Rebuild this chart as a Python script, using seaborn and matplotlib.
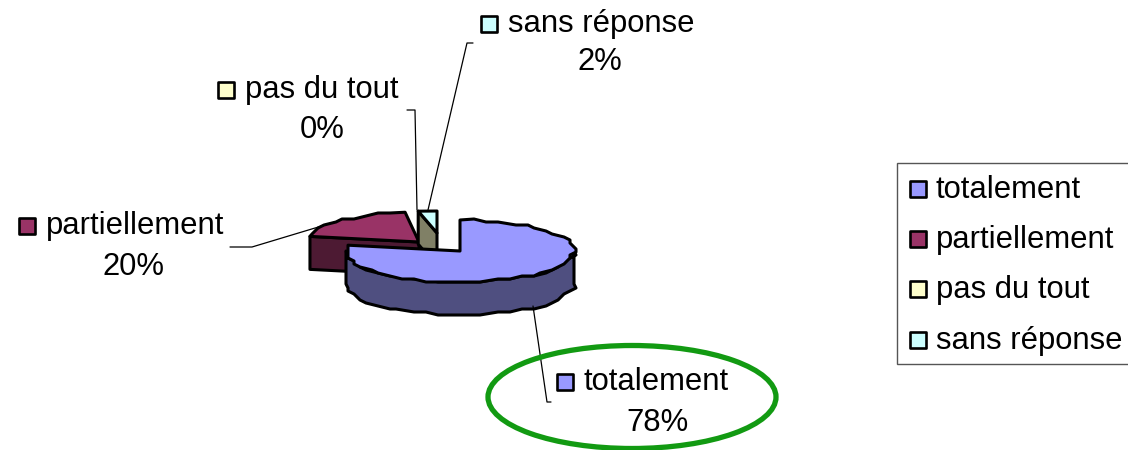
import numpy as np
import seaborn as sns
import matplotlib.pyplot as plt
from matplotlib.patches import Ellipse, Rectangle

labels = ["totalement", "partiellement", "pas du tout", "sans réponse"]
shares = [78, 20, 0, 2]
top_colors = ["#9999FF", "#993366", "#FFFFCC", "#CCFFFF"]
wall_colors = ["#4F4F80", "#4D1A33", "#808066", "#808066"]

# layout, in pixels of the picture
vertices = [(460, 251), (419, 242), (418, 212), (437, 233)]
radii = [(114, 31), (111, 30), (111, 30), (150, 22)]
depth = 33
label_name_pos = [(584, 382), (46, 226), (245, 90), (508, 24)]
label_pct_pos = [(657, 423), (133, 267), (322, 130), (600, 62)]
legend_rows = [188, 238, 288, 339]
leaders = [
    ([551, 547, 533], [402, 402, 306]),
    ([230, 252, 335], [247, 247, 222]),
    ([407, 415, 417], [110, 110, 210]),
    ([473, 467, 428], [43, 43, 210]),
]
FONT = 22.3


def arc(vertex, radius, start, end, step=7):
    # coarse steps on purpose, the outline should look blocky
    n = max(int(abs(end - start) / step), 1)
    t = np.radians(np.linspace(start, end, n + 1))
    x = vertex[0] + radius[0] * np.cos(t)
    y = vertex[1] - radius[1] * np.sin(t)
    bx, by = np.round(x / 6) * 6, np.round(y / 3) * 3
    # keep the ends exact so the straight cuts stay straight
    bx[[0, -1]] = x[[0, -1]]
    by[[0, -1]] = y[[0, -1]]
    return bx, by


sns.set_theme(style="white")
plt.rcParams["font.family"] = ["Liberation Sans", "DejaVu Sans"]
palette = sns.color_palette(top_colors)
walls = sns.color_palette(wall_colors)

fig, ax = plt.subplots(figsize=(11.28, 4.5), dpi=100)
ax.set_position([0, 0, 1, 1])
ax.set_xlim(0, 1128)
ax.set_ylim(450, 0)
ax.axis("off")

# wedge angles come from the shares, clockwise from 12 o'clock
ends = 90 - np.cumsum(shares) * 3.6
starts = np.r_[90, ends[:-1]]

edge = dict(edgecolor="black", linewidth=2.2, joinstyle="round")

# partiellement: radial wall then top
v, r = vertices[1], radii[1]
x, y = arc(v, r, starts[1], ends[1])
ax.fill([x[0], v[0], v[0], x[0]], [y[0], v[1], v[1] + depth, y[0] + depth],
        facecolor=walls[1], zorder=2, **edge)
ax.fill(np.r_[v[0], x], np.r_[v[1], y], facecolor=palette[1], zorder=3, **edge)

# sans réponse: inner wall then top
v, r = vertices[3], radii[3]
x, y = arc(v, r, starts[3], ends[3], step=8)
ax.fill([x[0], v[0], v[0], x[0]], [y[0], v[1], v[1] + depth, y[0] + depth],
        facecolor=walls[3], zorder=4, **edge)
ax.fill(np.r_[v[0], x], np.r_[v[1], y], facecolor=palette[3], zorder=5, **edge)

# totalement: outer wall then top
v, r = vertices[0], radii[0]
x, y = arc(v, r, 180, 360)
ax.fill(np.r_[x, x[::-1]], np.r_[y + depth, y[::-1]],
        facecolor=walls[0], zorder=6, **edge)
x, y = arc(v, r, starts[0], ends[0])
ax.fill(np.r_[v[0], x], np.r_[v[1], y], facecolor=palette[0], zorder=7, **edge)

# leader lines
for lx, ly in leaders:
    ax.plot(lx, ly, color="black", linewidth=0.9, zorder=8)

# data labels with their little squares
for i, name in enumerate(labels):
    nx, ny = label_name_pos[i]
    ax.scatter(nx - 19, ny, marker="s", s=125, color=palette[i],
               edgecolor="black", linewidth=1.9, zorder=9)
    ax.text(nx, ny, name, fontsize=FONT, va="center", ha="left", color="black")
    px, py = label_pct_pos[i]
    ax.text(px, py, f"{shares[i]}%", fontsize=FONT, va="center", ha="center",
            color="black")

ax.add_patch(Ellipse((632, 397), 288, 103, fill=False, edgecolor="#129A12",
                     linewidth=3.8, zorder=10))

# legend box, drawn by hand so the frame height matches
ax.add_patch(Rectangle((897, 163), 240, 201, facecolor="white",
                       edgecolor="#555555", linewidth=1.0, zorder=1))
for i, name in enumerate(labels):
    ax.scatter(918, legend_rows[i] + 1, marker="s", s=125, color=palette[i],
               edgecolor="black", linewidth=1.9, zorder=9)
    ax.text(936, legend_rows[i] + 2, name, fontsize=FONT, va="center", ha="left",
            color="black")

fig.savefig("out.png", dpi=100)
